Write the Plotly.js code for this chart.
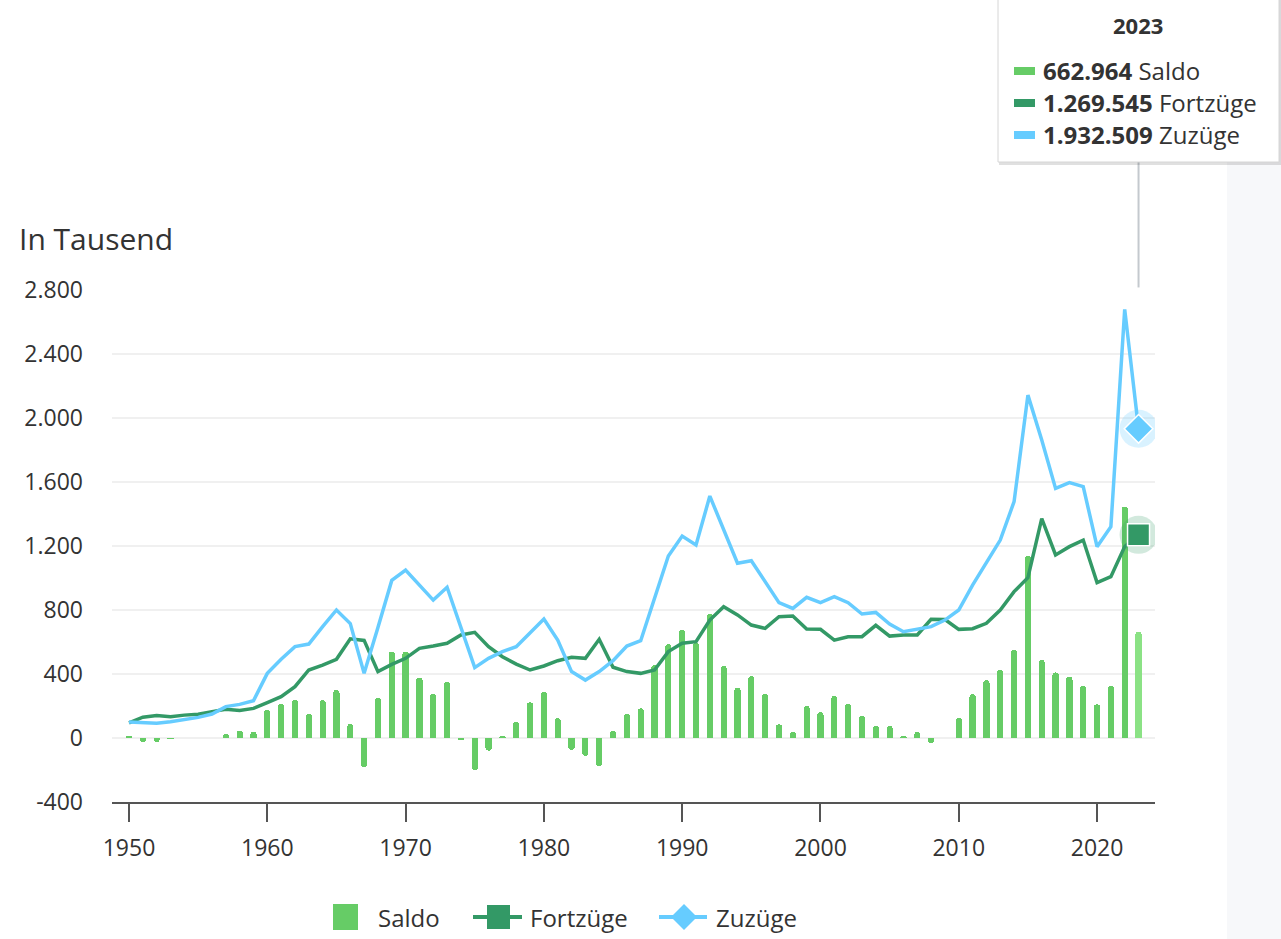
<!DOCTYPE html>
<html>
<head>
<meta charset="utf-8">
<script src="https://cdn.plot.ly/plotly-3.0.1.min.js"></script>
<style>
html,body{margin:0;padding:0;background:#fff;}
#chart{width:1281px;height:939px;}
</style>
</head>
<body>
<div id="chart"></div>
<script>
// ---- Data (in thousands) ----
const years = [1950,1951,1952,1953,1954,1955,1956,1957,1958,1959,
  1960,1961,1962,1963,1964,1965,1966,1967,1968,1969,
  1970,1971,1972,1973,1974,1975,1976,1977,1978,1979,
  1980,1981,1982,1983,1984,1985,1986,1987,1988,1989,
  1990,1991,1992,1993,1994,1995,1996,1997,1998,1999,
  2000,2001,2002,2003,2004,2005,2006,2007,2008,2009,
  2010,2011,2012,2013,2014,2015,2016,2017,2018,2019,
  2020,2021,2022,2023];

const saldo = [12,-25,-25,-5,-3,0,2,25,45,40,
  175,212,237,150,237,300,87,-183,252,540,
  540,377,275,350,-12,-200,-79,10,100,223,
  287,123,-75,-112,-175,46,150,185,456,587,
  675,596,775,450,315,387,275,85,37,200,
  162,262,212,137,75,75,12,37,-33,-2,
  125,273,362,425,550,1137,487,410,383,325,
  210,325,1446,662.964];

const fortzuege = [95,130,140,133,143,148,165,180,172,185,
  221,258,321,425,456,492,620,610,415,460,
  498,560,575,592,644,660,571,508,462,425,
  450,483,504,498,617,442,415,404,425,540,
  592,602,737,821,769,706,685,758,762,681,
  679,612,633,633,704,637,644,644,742,740,
  679,683,717,800,915,1002,1371,1144,1196,1237,
  971,1008,1196,1269.545];

const zuzuege = [100,98,92,102,117,129,150,196,210,233,
  404,492,571,587,696,800,715,404,690,985,
  1050,956,862,942,685,440,498,540,571,658,
  744,612,415,362,415,483,575,608,870,1138,
  1262,1206,1512,1300,1092,1108,977,846,810,879,
  846,883,846,775,785,712,664,679,696,737,
  800,956,1092,1237,1477,2143,1862,1560,1596,1571,
  1196,1321,2679,1932.509];

const seriesNames = ['Saldo','Fortzüge','Zuzüge'];
const tooltipValues = ['662.964','1.269.545','1.932.509'];
const tooltipYear = '2023';
const axisTitle = 'In Tausend';

const yTickVals = [-400,0,400,800,1200,1600,2000,2400,2800];
const yTickText = ['-400','0','400','800','1.200','1.600','2.000','2.400','2.800'];
const xTickVals = [1950,1960,1970,1980,1990,2000,2010,2020];
const xTickText = ['1950','1960','1970','1980','1990','2000','2010','2020'];

// ---- Styles ----
const C_SALDO = '#66cc66', C_SALDO_HOVER = '#8be285';
const C_FORT = '#339966', C_ZU = '#66ccff';
const FONT = 'Open Sans, Noto Sans, sans-serif';
const TXT = '#333333';

const W = 1281, H = 939;
const M = {l:112, r:126, t:290, b:137, autoexpand:false};
const pw = W - M.l - M.r, ph = H - M.t - M.b;
const px = x => (x - M.l) / pw;
const py = y => (H - M.b - y) / ph;

const last = years.length - 1;
const barColors = years.map((y,i) => i === last ? C_SALDO_HOVER : C_SALDO);

const traces = [
  {type:'bar', x:years, y:saldo, name:seriesNames[0], width:0.45,
   marker:{color:barColors, cornerradius:3, line:{width:0}}, showlegend:false, hoverinfo:'skip'},
  {type:'scatter', mode:'lines', x:years, y:fortzuege, name:seriesNames[1],
   line:{color:C_FORT, width:3.5}, showlegend:false, hoverinfo:'skip'},
  {type:'scatter', mode:'lines', x:years, y:zuzuege, name:seriesNames[2],
   line:{color:C_ZU, width:3.5}, showlegend:false, hoverinfo:'skip'},
  // hover halos + markers at last year
  {type:'scatter', mode:'markers', x:[years[last]], y:[fortzuege[last]], showlegend:false, hoverinfo:'skip',
   marker:{symbol:'circle', size:38, color:'rgba(51,153,102,0.22)', line:{width:0}}},
  {type:'scatter', mode:'markers', x:[years[last]], y:[zuzuege[last]], showlegend:false, hoverinfo:'skip',
   marker:{symbol:'circle', size:38, color:'rgba(102,204,255,0.25)', line:{width:0}}},
  {type:'scatter', mode:'markers', x:[years[last]], y:[fortzuege[last]], showlegend:false, hoverinfo:'skip',
   marker:{symbol:'square', size:22, color:C_FORT, line:{width:1.5, color:'#ffffff'}}},
  {type:'scatter', mode:'markers', x:[years[last]], y:[zuzuege[last]], showlegend:false, hoverinfo:'skip',
   marker:{symbol:'diamond', size:22, color:C_ZU, line:{width:1.5, color:'#ffffff'}}}
];

// tooltip
const tipX0 = 998, tipX1 = 1279, tipY1 = 162;
const shapes = [
  // right side panel
  {type:'rect', xref:'paper', yref:'paper', x0:px(1227), x1:px(1290), y0:py(945), y1:py(-5),
   fillcolor:'#f7f8fa', line:{width:0}, layer:'below'},
  // hover guide line
  {type:'line', xref:'x', yref:'paper', x0:years[last], x1:years[last], y0:1.005, y1:py(tipY1),
   line:{color:'#c4c9ce', width:2}},
  // tooltip shadow
  {type:'rect', xref:'paper', yref:'paper', x0:px(tipX0+1), x1:px(tipX1+2), y0:py(tipY1+3), y1:py(-10),
   fillcolor:'rgba(0,0,0,0.12)', line:{width:0}},
  {type:'rect', xref:'paper', yref:'paper', x0:px(tipX0), x1:px(tipX1), y0:py(tipY1), y1:py(-10),
   fillcolor:'#ffffff', line:{color:'#d6d6d6', width:1}}
];
const annotations = [
  {xref:'paper', yref:'paper', x:px(17), y:py(238), xanchor:'left', yanchor:'middle',
   text:axisTitle, showarrow:false, font:{family:FONT, size:30, color:TXT}},
  {xref:'paper', yref:'paper', x:px(1138), y:py(25), xanchor:'center', yanchor:'middle',
   text:'<b>'+tooltipYear+'</b>', showarrow:false, font:{family:FONT, size:22, color:TXT}}
];
const tipColors = [C_SALDO, C_FORT, C_ZU];
const rowY = [71, 103, 135];
for (let i = 0; i < 3; i++) {
  shapes.push({type:'rect', xref:'paper', yref:'paper', x0:px(1014), x1:px(1035),
    y0:py(rowY[i]+4), y1:py(rowY[i]-4), fillcolor:tipColors[i], line:{width:0}});
  annotations.push({xref:'paper', yref:'paper', x:px(1041), y:py(rowY[i]-1), xanchor:'left', yanchor:'middle',
    text:'<b>'+tooltipValues[i]+'</b> '+seriesNames[i], showarrow:false,
    font:{family:FONT, size:24, color:TXT}});
}

// legend (drawn below the plot)
const LY = 917;
shapes.push({type:'rect', xref:'paper', yref:'paper', x0:px(333), x1:px(358), y0:py(LY+13), y1:py(LY-13),
  fillcolor:C_SALDO, line:{width:0}});
shapes.push({type:'line', xref:'paper', yref:'paper', x0:px(473), x1:px(522), y0:py(LY), y1:py(LY),
  line:{color:C_FORT, width:4}});
shapes.push({type:'rect', xref:'paper', yref:'paper', x0:px(487), x1:px(510), y0:py(LY+12), y1:py(LY-12),
  fillcolor:C_FORT, line:{width:0}});
shapes.push({type:'line', xref:'paper', yref:'paper', x0:px(659), x1:px(707), y0:py(LY), y1:py(LY),
  line:{color:C_ZU, width:4}});
shapes.push({type:'path', xref:'paper', yref:'paper',
  path:'M'+px(684)+','+py(LY-13)+' L'+px(697)+','+py(LY)+' L'+px(684)+','+py(LY+13)+' L'+px(671)+','+py(LY)+' Z',
  fillcolor:C_ZU, line:{width:0}});
const legendTextX = [376, 528, 714];
for (let i = 0; i < 3; i++) {
  annotations.push({xref:'paper', yref:'paper', x:px(legendTextX[i]), y:py(LY), xanchor:'left', yanchor:'middle',
    text:seriesNames[i], showarrow:false, font:{family:FONT, size:24, color:TXT}});
}

const layout = {
  width:W, height:H,
  margin:M,
  paper_bgcolor:'#ffffff', plot_bgcolor:'#ffffff',
  font:{family:FONT, color:TXT, size:23},
  hovermode:false,
  showlegend:false,
  bargap:0,
  xaxis:{
    range:[1948.77, 2024.19],
    tickvals:xTickVals, ticktext:xTickText,
    showgrid:false, zeroline:false,
    showline:true, linecolor:'#555555', linewidth:2,
    ticks:'outside', ticklen:18, tickwidth:2, tickcolor:'#555555',
    ticklabelstandoff:6,
    tickfont:{family:FONT, size:23, color:TXT},
    fixedrange:true
  },
  yaxis:{
    range:[-400, 2800],
    tickvals:yTickVals, ticktext:yTickText,
    showgrid:true, gridcolor:'#f0f0f0', gridwidth:2,
    zeroline:false, showline:false, ticks:'',
    ticklabelstandoff:28,
    tickfont:{family:FONT, size:23, color:TXT},
    fixedrange:true
  },
  shapes:shapes,
  annotations:annotations
};

Plotly.newPlot('chart', traces, layout, {displayModeBar:false, staticPlot:true});
</script>
</body>
</html>
